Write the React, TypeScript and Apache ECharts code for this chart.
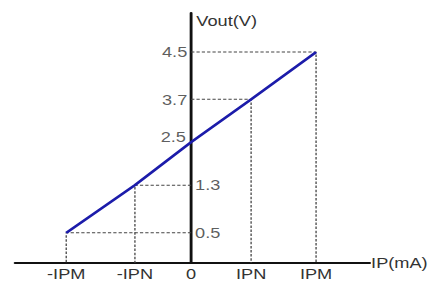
import React, { useEffect, useRef } from "react";
import * as echarts from "echarts";

// x tick positions (schematic units, IPM = 1) and labels
const xTickPos = [-1, -0.45, 0, 0.48, 1];
const xTickLabels = ["-IPM", "-IPN", "0", "IPN", "IPM"];
// Vout tick labels and their schematic vertical positions
const voutLabels = ["0.5", "1.3", "2.5", "3.7", "4.5"];
const voutPos = [0.67, 1.73, 2.69, 3.64, 4.69];
// which side of the Vout axis each label sits on
const voutLabelSide = ["right", "right", "left", "left", "left"];

// the reference figure is horizontally stretched
const STRETCH = 1.3;
const W = 432;
const H = 281;

export default function App() {
  const ref = useRef<HTMLDivElement>(null);
  useEffect(() => {
    const chart = echarts.init(ref.current!, null, { renderer: "svg" });
    const font = "Liberation Sans, Arial, sans-serif";
    const linePoints = xTickPos.map((x, i) => [x, voutPos[i]]);
    const guides = xTickPos
      .map((x, i) => ({ x, y: voutPos[i] }))
      .filter((p) => p.x !== 0)
      .map((p) => ({
        type: "line",
        data: [
          [0, p.y],
          [p.x, p.y],
          [p.x, 0],
        ],
        symbol: "none",
        lineStyle: { color: "#444", width: 1, type: [2.5, 1.6] },
        z: 1,
      }));
    chart.setOption({
      animation: false,
      grid: { left: 15 / STRETCH, right: 45 / STRETCH, top: 13, bottom: 18 },
      xAxis: {
        type: "value",
        min: -1.41,
        max: 1.43,
        name: "IP(mA)",
        nameLocation: "end",
        nameGap: 1,
        nameTextStyle: { color: "#333", fontSize: 14, fontFamily: font },
        axisLine: { onZero: false, lineStyle: { color: "#111", width: 2 } },
        axisTick: { show: false },
        splitLine: { show: false },
        axisLabel: {
          customValues: xTickPos,
          formatter: (v: number) => {
            const i = xTickPos.findIndex((p) => Math.abs(p - v) < 1e-6);
            return i >= 0 ? xTickLabels[i] : "";
          },
          color: "#333",
          fontSize: 14,
          fontFamily: font,
          margin: 4,
        },
      },
      yAxis: {
        type: "value",
        min: 0,
        max: 5.56,
        name: "Vout(V)",
        nameLocation: "end",
        nameGap: -1,
        nameTextStyle: {
          color: "#333",
          fontSize: 14,
          fontFamily: font,
          align: "left",
          verticalAlign: "top",
          padding: [0, 0, 0, 4],
        },
        axisLine: { onZero: true, lineStyle: { color: "#111", width: 2.2 } },
        axisTick: { show: false },
        axisLabel: { show: false },
        splitLine: { show: false },
      },
      series: [
        ...guides,
        {
          type: "line",
          data: linePoints,
          symbol: "none",
          lineStyle: { color: "#1c1caa", width: 2.4 },
          z: 3,
        },
        {
          type: "scatter",
          symbolSize: 0,
          data: voutPos.map((y, i) => ({
            value: [0, y],
            label: {
              show: true,
              formatter: voutLabels[i],
              position: voutLabelSide[i],
              distance: i === 2 ? 4 : 3,
              offset: i === 2 ? [0, -5] : [0, 0],
              color: "#333",
              fontSize: 14,
              fontFamily: font,
            },
          })),
          z: 4,
        },
      ],
    });
    return () => chart.dispose();
  }, []);
  return (
    <div style={{ position: "absolute", left: 0, top: 0, width: W, height: H, overflow: "hidden", background: "#fff" }}>
      <div
        ref={ref}
        style={{
          width: W / STRETCH,
          height: H,
          transform: `scaleX(${STRETCH})`,
          transformOrigin: "0 0",
        }}
      />
    </div>
  );
}
